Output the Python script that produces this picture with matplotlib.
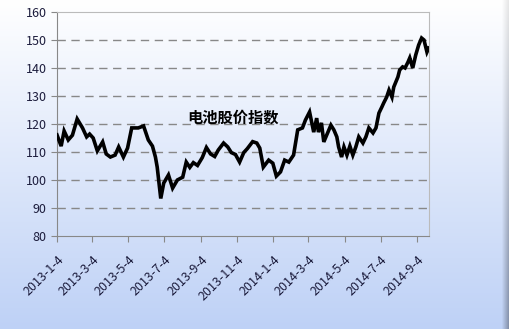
import numpy as np
import pandas as pd
import matplotlib
matplotlib.use('Agg')
import matplotlib.pyplot as plt

plt.rcParams['font.family'] = ['Noto Sans CJK SC', 'DejaVu Sans']

# day offsets from 2013-01-04 and index values
start = pd.Timestamp('2013-01-04')
day_offset = [0, 7, 12, 19, 26, 34, 43, 50, 55, 61, 68, 77, 83, 90, 98, 104, 112, 119,
              126, 137, 146, 154, 161, 166, 169, 175, 180, 188, 195, 203, 212, 218, 224,
              230, 237, 245, 252, 259, 266, 272, 281, 288, 294, 301, 308, 315, 321, 330,
              337, 342, 348, 357, 364, 370, 377, 384, 391, 399, 406, 414, 419, 426, 433,
              438, 441, 446, 450, 457, 462, 467, 472, 475, 480, 484, 489, 494, 499, 504,
              509, 516, 521, 526, 533, 538, 543, 548, 551, 556, 560, 565, 568, 575, 578,
              583, 587, 592, 595, 600, 605, 610, 615, 619, 624, 627]
index_val = [116.1, 112.1, 117.5, 114.3, 116.0, 121.8, 118.6, 115.4, 116.4, 115.0, 110.4,
             113.6, 109.3, 108.2, 108.9, 111.8, 108.2, 111.4, 118.6, 118.6, 119.3, 114.3,
             112.1, 108.2, 104.6, 93.4, 98.9, 101.8, 97.1, 100.0, 101.0, 106.4, 104.5,
             106.2, 105.2, 108.0, 111.6, 109.3, 108.4, 110.7, 113.2, 111.8, 109.8, 109.1,
             106.4, 109.8, 111.2, 113.7, 113.2, 111.4, 104.6, 107.1, 106.0, 101.4, 102.9,
             107.1, 106.4, 108.9, 117.9, 118.6, 121.4, 124.3, 117.1, 122.1, 117.1, 120.4,
             113.6, 117.1, 119.6, 117.9, 115.4, 111.8, 108.2, 111.8, 108.9, 112.1, 108.9,
             111.8, 115.4, 113.2, 115.4, 118.6, 116.8, 118.6, 123.9, 126.1, 127.5, 129.6,
             132.1, 129.6, 133.2, 136.8, 139.3, 140.4, 140.0, 142.1, 143.6, 140.0, 144.6,
             148.2, 150.7, 150.0, 145.7, 147.1]
end_date = pd.Timestamp('2014-09-23')
tick_dates = ['2013-1-4', '2013-3-4', '2013-5-4', '2013-7-4', '2013-9-4', '2013-11-4',
              '2014-1-4', '2014-3-4', '2014-5-4', '2014-7-4', '2014-9-4']
y_ticks = [80, 90, 100, 110, 120, 130, 140, 150, 160]
title = '电池股价指数'

dates = start + pd.to_timedelta(day_offset, unit='D')

fig = plt.figure(figsize=(5.09, 3.29), dpi=100)

# background gradient (white -> light blue), right edge shaded toward the bottom
bg = fig.add_axes([0, 0, 1, 1], zorder=-10)
bg.axis('off')
h, w = 329, 509
t = np.linspace(0, 1, h)[:, None]
top = np.array([1.0, 1.0, 1.0])
bot = np.array([0.745, 0.82, 0.965])
img = (top * (1 - t) + bot * t)[:, None, :].repeat(w, axis=1)
edge = np.zeros(w)
edge[-7:] = np.linspace(0.03, 0.30, 7)
shade = 1 - edge[None, :] * (0.3 + 0.7 * t)
img = img * shade[:, :, None]
bg.imshow(img, aspect='auto', extent=[0, 1, 0, 1])

ax = fig.add_axes([0.112, 0.2827, 0.7303, 0.6808])
ax.patch.set_alpha(0)
ax.plot(dates, index_val, color='black', lw=2.6, solid_joinstyle='miter', zorder=3)

ax.set_ylim(80, 160)
ax.set_yticks(y_ticks)
ax.set_xlim(start, end_date)
ax.set_xticks([pd.Timestamp(d) for d in tick_dates])
ax.set_xticklabels(tick_dates, rotation=45, ha='right', rotation_mode='anchor')

for v in y_ticks[1:-1]:
    ax.axhline(v, color='#888888', lw=1, ls=(0, (6, 4)), zorder=1)

for s in ['left', 'bottom']:
    ax.spines[s].set_color('#888888')
for s in ['top', 'right']:
    ax.spines[s].set_color('#bbbbbb')
ax.tick_params(axis='both', direction='out', length=4, color='#888888',
               labelsize=9, labelcolor='#1c1c3c')
ax.tick_params(axis='x', pad=8)

ax.text(0.474, 0.527, title, transform=ax.transAxes, ha='center', va='center',
        fontsize=11, fontweight='bold', color='black')

plt.savefig('out.png', dpi=100)
